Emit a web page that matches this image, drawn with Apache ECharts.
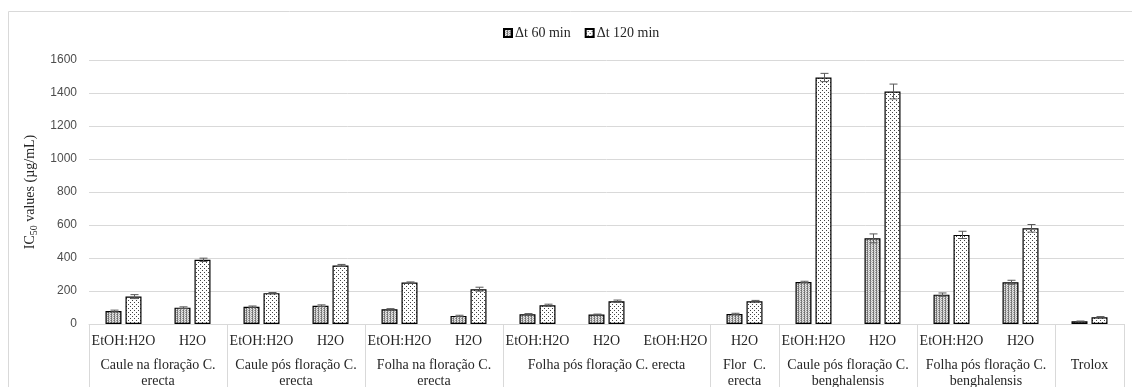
<!DOCTYPE html>
<html><head><meta charset="utf-8">
<script src="https://cdn.jsdelivr.net/npm/echarts@6/dist/echarts.min.js"></script>
<style>html,body{margin:0;padding:0;background:#fff}#c{width:1132px;height:387px}</style>
</head><body><div id="c"></div>
<script>
// ---- data ----
const subLabels = ['EtOH:H2O','H2O','EtOH:H2O','H2O','EtOH:H2O','H2O','EtOH:H2O','H2O','EtOH:H2O','H2O','EtOH:H2O','H2O','EtOH:H2O','H2O',''];
const groupLabels = ['Caule na floração C.\nerecta','Caule pós floração C.\nerecta','Folha na floração C.\nerecta','Folha pós floração C. erecta','Flor  C.\nerecta','Caule pós floração C.\nbenghalensis','Folha pós floração C.\nbenghalensis','Trolox'];
const groupCenters = [1, 3, 5, 7.5, 9.5, 11, 13, 14.5];
const groupBounds = [0, 2, 4, 6, 9, 10, 12, 14, 15];
const seriesNames = ['\u0394t 60 min', '\u0394t 120 min'];
const values60  = [79, 99, 105, 111, 89, 49, 59, 57, null, 61, 255, 519, 178, 253, 16];
const values120 = [166, 389, 187, 355, 251, 211, 114, 138, null, 138, 1494, 1409, 540, 580, 41];
const err60  = [5, 5, 4, 5, 4, 4, 4, 3, null, 4, 4, 27, 10, 12, 2];
const err120 = [12, 10, 4, 6, 4, 12, 6, 7, null, 5, 25, 45, 22, 23, 4];
const yMin = 0, yMax = 1600, yStep = 200;

// ---- patterns ----
function makePattern(w, h, bg, pts) {
  const c = document.createElement('canvas'); c.width = w; c.height = h;
  const g = c.getContext('2d'); g.fillStyle = bg; g.fillRect(0, 0, w, h);
  pts.forEach(p => { g.fillStyle = p[2]; g.fillRect(p[0], p[1], 1, 1); });
  return {image: c, repeat: 'repeat'};
}
const pat60 = makePattern(3, 2, '#e6e6e6', [[0,0,'#6a6a6a'],[0,1,'#8a8a8a'],[2,0,'#a0a0a0'],[1,1,'#bdbdbd']]);
const pat120 = makePattern(4, 4, '#ffffff', [[0,0,'#444'],[2,2,'#444']]);

const BW = 16, DX = 10;
function errSeries(vals, errs, dx) {
  const data = [];
  vals.forEach((v, i) => { if (v != null) data.push([i, v, errs[i]]); });
  return {
    type: 'custom', xAxisIndex: 0, yAxisIndex: 0, z: 5, silent: true,
    encode: {x: 0, y: 1},
    data,
    renderItem(params, api) {
      const i = api.value(0), v = api.value(1), e = api.value(2);
      const t = api.coord([i, v + e]), b = api.coord([i, v - e]);
      const x = Math.round(t[0] + dx) + 0.5;
      const st = {stroke: '#595959', lineWidth: 1};
      return {type: 'group', children: [
        {type: 'line', shape: {x1: x, y1: t[1], x2: x, y2: b[1]}, style: st},
        {type: 'line', shape: {x1: x - 4, y1: t[1], x2: x + 4, y2: t[1]}, style: st},
        {type: 'line', shape: {x1: x - 4, y1: b[1], x2: x + 4, y2: b[1]}, style: st}
      ]};
    }
  };
}

const serif = 'Liberation Serif';
const chart = echarts.init(document.getElementById('c'));
chart.setOption({
  animation: false,
  graphic: [{type: 'rect', silent: true, z: -10,
    shape: {x: 8.5, y: 11.5, width: 1200, height: 500},
    style: {fill: null, stroke: '#d9d9d9', lineWidth: 1}}],
  legend: {
    data: seriesNames, left: 498, top: 21, itemWidth: 8, itemHeight: 8, itemGap: 14,
    icon: 'rect',
    textStyle: {fontFamily: serif, fontSize: 14, color: '#262626', padding: [0, 0, 0, -2]}
  },
  grid: {left: 89, right: 8, top: 60, bottom: 63, containLabel: false, outerBoundsMode: 'none'},
  xAxis: [{
    type: 'category', data: subLabels, position: 'bottom',
    axisLine: {lineStyle: {color: '#d9d9d9', width: 1}},
    axisTick: {show: false},
    axisLabel: {interval: 0, margin: 10, fontFamily: serif, fontSize: 14, color: '#262626'}
  }, {
    type: 'value', min: 0, max: 15, position: 'bottom',
    axisLine: {show: false}, splitLine: {show: false},
    axisTick: {show: true, customValues: groupBounds, length: 64, lineStyle: {color: '#d9d9d9', width: 1}},
    axisLabel: {customValues: groupCenters, margin: 33, fontFamily: serif, fontSize: 14, lineHeight: 16, color: '#262626',
      formatter: v => groupLabels[groupCenters.indexOf(v)] || ''}
  }],
  yAxis: {
    type: 'value', min: yMin, max: yMax, interval: yStep,
    axisLine: {show: false}, axisTick: {show: false},
    splitLine: {lineStyle: {color: '#d9d9d9', width: 1}},
    axisLabel: {margin: 12, fontFamily: 'Liberation Sans', fontSize: 12, color: '#4d4d4d', formatter: v => String(v)},
    name: '{n|IC}{s|50}{n| values (µg/mL)}', nameLocation: 'middle', nameGap: 29,
    nameTextStyle: {rich: {
      n: {fontFamily: serif, fontSize: 14, color: '#262626', lineHeight: 18},
      s: {fontFamily: serif, fontSize: 10, color: '#262626', lineHeight: 18, verticalAlign: 'bottom', padding: [5, 0, 0, 0]}
    }}
  },
  series: [
    {name: seriesNames[0], type: 'bar', data: values60, barWidth: BW, barGap: '25%',
     itemStyle: {color: pat60, borderColor: '#000', borderWidth: 1.2}},
    {name: seriesNames[1], type: 'bar', data: values120, barWidth: BW, barGap: '25%',
     itemStyle: {color: pat120, borderColor: '#000', borderWidth: 1.2}},
    errSeries(values60, err60, -DX),
    errSeries(values120, err120, DX)
  ]
});
</script></body></html>
